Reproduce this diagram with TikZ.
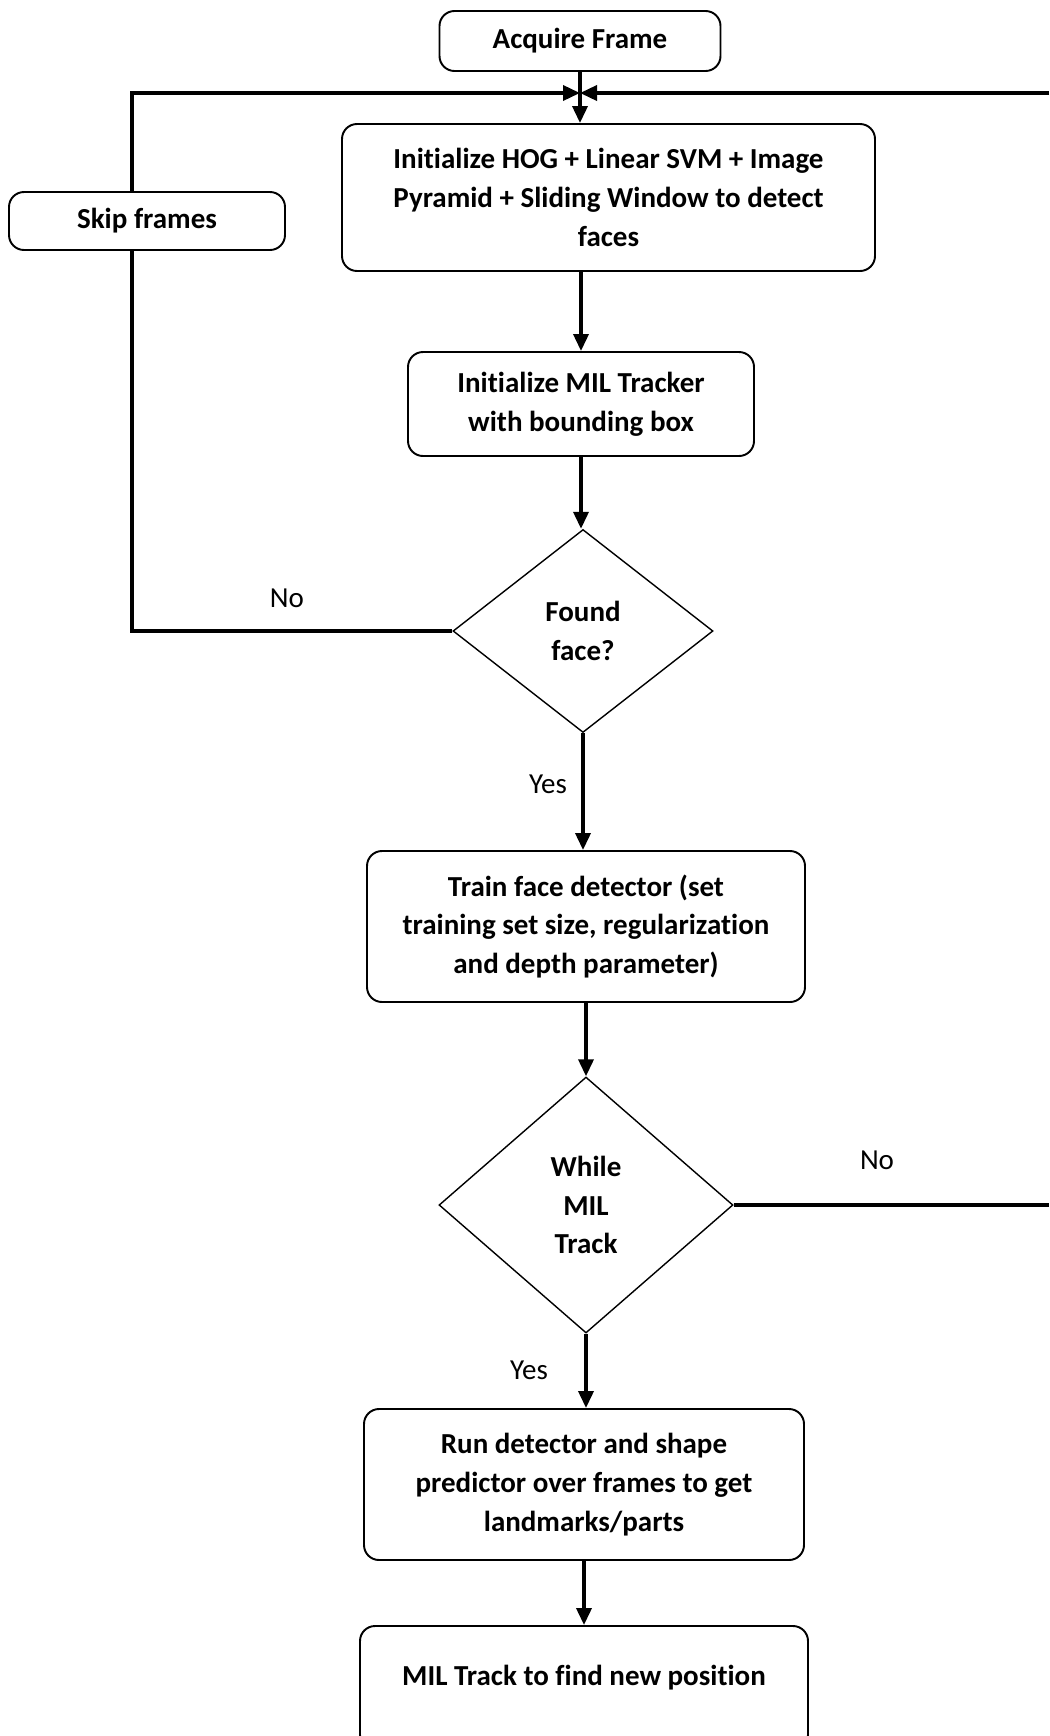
\documentclass[tikz,border=0pt]{standalone}
\usepackage{fontspec}
\setmainfont{Carlito}[Ligatures=NoCommon]
\usetikzlibrary{shapes.geometric,arrows.meta,calc}

\tikzset{
  procbox/.style={draw, rounded corners=0.3cm, line width=1.1pt, align=center,
    font=\bfseries\fontsize{16.5}{22}\selectfont, inner sep=0pt},
  decision/.style={draw, diamond, line width=0.8pt, align=center,
    font=\bfseries\fontsize{16.5}{22}\selectfont, inner sep=0pt},
  flow/.style={line width=2pt, -{Triangle[length=0.34cm,width=0.3cm]}},
  link/.style={line width=2pt},
  tag/.style={font=\fontsize{16.5}{22}\selectfont}
}

\begin{document}
\begin{tikzpicture}
    \useasboundingbox (0,0) rectangle (20.98,-34.72);
    \clip (0,0) rectangle (20.98,-34.72);

    % boxes
    \node[procbox, minimum width=5.62cm, minimum height=1.20cm] (acq) at (11.60,-0.82) {Acquire Frame};
    \node[procbox, minimum width=10.66cm, minimum height=2.94cm] (init) at (12.17,-3.95)
      {Initialize HOG + Linear SVM + Image\\Pyramid + Sliding Window to detect\\faces};
    \node[procbox, minimum width=5.52cm, minimum height=1.16cm] (skip) at (2.94,-4.42) {Skip frames};
    \node[procbox, minimum width=6.92cm, minimum height=2.08cm] (milinit) at (11.62,-8.08)
      {Initialize MIL Tracker\\with bounding box};
    \node[decision, minimum width=5.2cm, minimum height=4.06cm] (found) at (11.66,-12.62) {Found\\face?};
    \node[procbox, minimum width=8.76cm, minimum height=3.02cm] (train) at (11.72,-18.53)
      {Train face detector (set\\training set size, regularization\\and depth parameter)};
    \node[decision, minimum width=5.88cm, minimum height=5.12cm] (while) at (11.72,-24.10) {While\\MIL\\Track};
    \node[procbox, minimum width=8.80cm, minimum height=3.02cm] (run) at (11.68,-29.69)
      {Run detector and shape\\predictor over frames to get\\landmarks/parts};
    \node[procbox, minimum width=8.96cm, minimum height=2.48cm, text depth=0.5cm] (track) at (11.68,-33.76)
      {MIL Track to find new position};

    % main flow
    \draw[flow] (acq.south) -- (acq.south |- init.north);
    \draw[flow] (milinit.north |- init.south) -- (milinit.north);
    \draw[flow] (milinit.south) -- (milinit.south |- found.north);
    \draw[flow] (found.south) -- (found.south |- train.north);
    \draw[flow] (train.south) -- (train.south |- while.north);
    \draw[flow] (while.south) -- (while.south |- run.north);
    \draw[flow] (run.south) -- (run.south |- track.north);

    % loops back to the top
    \coordinate (loopl) at (2.64,-1.86);
    \coordinate (loopr) at (20.98,-1.86);
    \coordinate (join) at (acq.south |- loopl);
    \draw[link] (found.west) -- (found.west -| loopl) -- (loopl |- skip.south);
    \draw[flow] (loopl |- skip.north) -- (loopl) -- (join);
    \draw[link] (while.east) -- (while.east -| loopr);
    \draw[flow] (loopr) -- (join);

    % labels
    \node[tag] (nofound) at (5.74,-11.96) {No};
    \node[tag] (yesfound) at (10.96,-15.68) {Yes};
    \node[tag] (nowhile) at (17.54,-23.20) {No};
    \node[tag] (yeswhile) at (10.58,-27.40) {Yes};
\end{tikzpicture}
\end{document}
